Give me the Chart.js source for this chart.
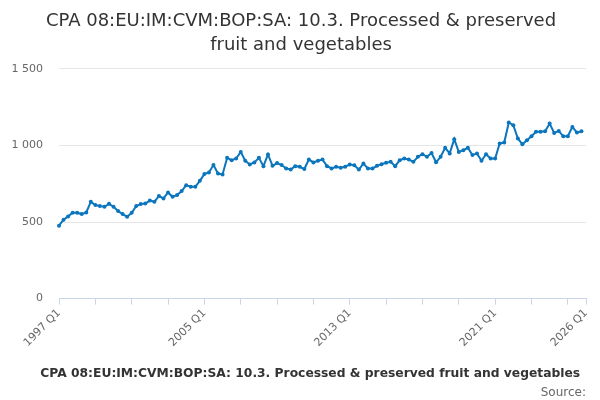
<!DOCTYPE html>
<html>
<head>
<meta charset="utf-8">
<script src="https://cdn.jsdelivr.net/npm/chart.js@4"></script>
<style>
  html, body { margin: 0; padding: 0; background: #fff; }
  #wrap { width: 600px; height: 400px; }
</style>
</head>
<body>
<div id="wrap"><canvas id="chart"></canvas></div>
<script>
const seriesName = "CPA 08:EU:IM:CVM:BOP:SA: 10.3. Processed & preserved fruit and vegetables";
const titleLines = ["CPA 08:EU:IM:CVM:BOP:SA: 10.3. Processed & preserved", "fruit and vegetables"];
const firstYear = 1997;
const lastYear = 2026;
const labelledTicks = ["1997 Q1", "2005 Q1", "2013 Q1", "2021 Q1", "2026 Q1"];

// one value per quarter from 1997 Q1; the line stops a quarter short of 2026 Q1
const values = [
  476, 515, 537, 561, 561, 552, 563, 632, 611, 604,
  600, 619, 600, 572, 552, 535, 560, 605, 617, 621,
  640, 632, 670, 654, 693, 665, 676, 702, 741, 730,
  730, 769, 813, 824, 872, 817, 811, 919, 904, 915,
  958, 900, 876, 889, 919, 865, 941, 867, 885, 872,
  850, 843, 865, 861, 846, 908, 889, 900, 908, 865,
  850, 861, 854, 861, 876, 870, 843, 882, 850, 850,
  867, 878, 887, 893, 865, 904, 915, 908, 893, 926,
  943, 926, 951, 890, 926, 985, 948, 1041, 958, 969,
  985, 937, 948, 900, 943, 915, 915, 1013, 1019, 1150,
  1132, 1045, 1008, 1034, 1060, 1089, 1089, 1093, 1143, 1082,
  1095, 1060, 1060, 1121, 1084, 1093, null
];

const quarters = [];
for (let y = firstYear; y <= lastYear; y++) {
  for (let q = 1; q <= 4; q++) {
    quarters.push(`${y} Q${q}`);
    if (y === lastYear) break;
  }
}

const lineColor = "#0b76bd";
const fontFamily = "'DejaVu Sans', sans-serif";

function fmtThousands(v) {
  return String(v).replace(/\B(?=(\d{3})+(?!\d))/g, " ");
}

function isTickMark(i) {
  return i % 8 === 0 || i === quarters.length - 1;
}

// y labels hang a little past the axis box, so widen the box after layout
const widenYLabels = {
  id: "widenYLabels",
  afterLayout(chart) {
    chart.scales.y.left = 0;
  },
};

new Chart(document.getElementById("chart"), {
  type: "line",
  data: {
    labels: quarters,
    datasets: [
      {
        label: seriesName,
        data: values,
        borderColor: lineColor,
        backgroundColor: lineColor,
        borderWidth: 2,
        pointRadius: 2,
        pointBorderWidth: 0,
        pointBackgroundColor: lineColor,
        tension: 0,
      },
    ],
  },
  plugins: [widenYLabels],
  options: {
    responsive: true,
    maintainAspectRatio: false,
    animation: false,
    layout: { padding: { top: 9, right: 14, left: 16, bottom: 0 } },
    plugins: {
      tooltip: { enabled: false },
      title: {
        display: true,
        text: titleLines,
        color: "#333333",
        font: { family: fontFamily, size: 18, weight: "normal", lineHeight: 1.33 },
        padding: { top: 0, bottom: 12 },
      },
      subtitle: {
        display: true,
        position: "bottom",
        align: "end",
        text: "Source:",
        color: "#666666",
        font: { family: fontFamily, size: 12, weight: "normal" },
        padding: { top: -4, bottom: 0 },
      },
      legend: {
        position: "bottom",
        labels: {
          usePointStyle: true,
          pointStyle: "line",
          boxWidth: 16,
          color: "#333333",
          font: { family: fontFamily, size: 12.3, weight: "bold" },
          padding: 0,
        },
      },
    },
    scales: {
      x: {
        offset: false,
        border: { color: "#ccd6eb" },
        grid: {
          drawOnChartArea: false,
          drawTicks: true,
          tickLength: 6,
          color: (ctx) => (isTickMark(ctx.index) ? "#ccd6eb" : "rgba(0,0,0,0)"),
        },
        ticks: {
          autoSkip: false,
          maxRotation: 45,
          minRotation: 45,
          color: "#666666",
          font: { family: fontFamily, size: 11 },
          padding: 2,
          callback: function (val, i) {
            const lab = quarters[i];
            return labelledTicks.includes(lab) ? lab : "";
          },
        },
        afterFit: (scale) => {
          scale.paddingLeft = 0;
          scale.paddingRight = 0;
          scale.height += 16;
        },
      },
      y: {
        min: 0,
        max: 1500,
        border: { display: false },
        grid: { color: "#e6e6e6", drawTicks: false },
        ticks: {
          stepSize: 500,
          color: "#666666",
          font: { family: fontFamily, size: 11 },
          padding: 16,
          callback: (v) => fmtThousands(v),
        },
        afterFit: (scale) => {
          scale.width = 43;
        },
      },
    },
  },
});
</script>
</body>
</html>
